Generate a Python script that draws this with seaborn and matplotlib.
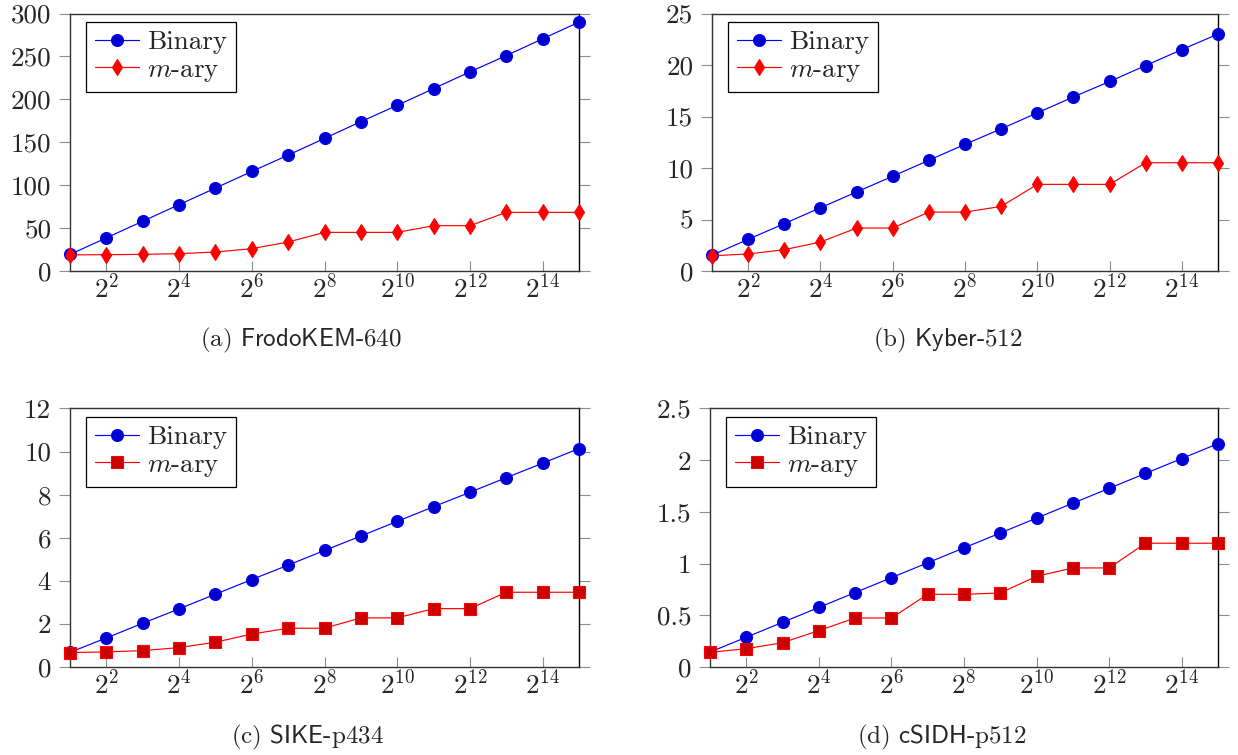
import numpy as np
import seaborn as sns
import matplotlib
matplotlib.use("Agg")
import matplotlib.pyplot as plt
from matplotlib.ticker import FixedLocator, NullLocator

# x axis: 2^1 ... 2^15
exponents = list(range(1, 16))
xtick_exps = [2, 4, 6, 8, 10, 12, 14]

# (a) FrodoKEM-640
frodo_binary = [19.3, 38.6, 58.0, 77.3, 96.6, 116.0, 135.0, 154.5, 174.0, 193.0, 212.5, 232.0, 251.0, 270.5, 290.0]
frodo_mary = [18.8, 19.0, 19.4, 20.2, 22.1, 26.0, 33.8, 45.0, 45.0, 45.0, 52.8, 52.8, 68.3, 68.3, 68.3]

# (b) Kyber-512
kyber_binary = [1.54, 3.07, 4.6, 6.14, 7.67, 9.2, 10.75, 12.3, 13.8, 15.35, 16.9, 18.4, 19.95, 21.5, 23.0]
kyber_mary = [1.48, 1.65, 2.07, 2.81, 4.17, 4.17, 5.72, 5.72, 6.27, 8.41, 8.41, 8.41, 10.51, 10.51, 10.51]

# (c) SIKE-p434
sike_binary = [0.68, 1.35, 2.03, 2.7, 3.38, 4.06, 4.73, 5.41, 6.08, 6.76, 7.44, 8.11, 8.79, 9.46, 10.14]
sike_mary = [0.67, 0.70, 0.76, 0.90, 1.15, 1.53, 1.80, 1.80, 2.28, 2.28, 2.71, 2.71, 3.47, 3.47, 3.47]

# (d) cSIDH-p512
csidh_binary = [0.144, 0.288, 0.432, 0.576, 0.72, 0.864, 1.008, 1.152, 1.296, 1.44, 1.584, 1.728, 1.872, 2.016, 2.16]
csidh_mary = [0.142, 0.177, 0.235, 0.352, 0.474, 0.474, 0.703, 0.703, 0.716, 0.877, 0.958, 0.958, 1.197, 1.197, 1.197]

captions = [r"(a) $\mathsf{FrodoKEM}$-640", r"(b) $\mathsf{Kyber}$-512",
            r"(c) $\mathsf{SIKE}$-p434", r"(d) $\mathsf{cSIDH}$-p512"]

sns.set_style("ticks")
plt.rcParams["font.family"] = ["cmr10", "DejaVu Serif"]
plt.rcParams["mathtext.fontset"] = "cm"
plt.rcParams["axes.unicode_minus"] = False
plt.rcParams["axes.formatter.use_mathtext"] = True

W, H = 1238, 755
fig = plt.figure(figsize=(W / 100, H / 100), dpi=100)

# axes boxes in pixels: left, top, right, bottom
boxes = [(70, 13.5, 579, 271), (712, 13.5, 1218, 271),
         (70, 408.5, 579, 667), (710, 408.5, 1218, 667)]
panels = [
    (frodo_binary, frodo_mary, "d", 8.5, "red", 300, 50),
    (kyber_binary, kyber_mary, "d", 8.5, "red", 25, 5),
    (sike_binary, sike_mary, "s", 8.2, "#cc0000", 12, 2),
    (csidh_binary, csidh_mary, "s", 8.2, "#cc0000", 2.5, 0.5),
]
cap_pos = [(301, 340.7), (948, 340.7), (307, 737), (942, 737)]

x = [2 ** e for e in exponents]

for box, (yb, ym, mk, ms, mfc, ytop, ystep), cap, cp in zip(boxes, panels, captions, cap_pos):
    l, t, r, b = box
    ax = fig.add_axes([l / W, 1 - b / H, (r - l) / W, (b - t) / H])
    sns.lineplot(x=x, y=yb, ax=ax, color="blue", linewidth=0.85, marker="o",
                 markersize=8.6, markerfacecolor="#0000cc", markeredgecolor="blue",
                 markeredgewidth=0.8, label="Binary", clip_on=False, zorder=3)
    sns.lineplot(x=x, y=ym, ax=ax, color="red", linewidth=0.85, marker=mk,
                 markersize=ms, markerfacecolor=mfc, markeredgecolor="red",
                 markeredgewidth=0.8, label="$m$-ary", clip_on=False, zorder=4)
    ax.set_xscale("log", base=2)
    ax.set_xlim(2, 2 ** 15)
    ax.xaxis.set_major_locator(FixedLocator([2 ** e for e in xtick_exps]))
    ax.xaxis.set_minor_locator(NullLocator())
    ax.set_xticklabels([r"$2^{%d}$" % e for e in xtick_exps])
    yt = np.arange(0, ytop + ystep / 2, ystep)
    ax.set_ylim(0, ytop)
    ax.set_yticks(yt)
    ax.set_yticklabels(["%g" % v for v in yt])
    ax.tick_params(axis="y", direction="out", length=8, width=0.8, color="0.55",
                   left=True, right=True, labelsize=19.5, pad=5.5)
    ax.tick_params(axis="x", direction="in", length=7.2, width=0.8, color="0.55",
                   bottom=True, top=False, labelsize=19.5, pad=1.5)
    for s in ax.spines.values():
        s.set_color("0.2")
        s.set_linewidth(1.0)
    ax.spines["right"].set_color("black")
    ax.set_xlabel("")
    ax.set_ylabel("")
    # legend box sits 16 px right of and 8 px below the top-left corner
    leg = ax.legend(loc="upper left", bbox_to_anchor=(16 / (r - l), 1 - 8.2 / (b - t)),
                    borderaxespad=0, fontsize=19.5, fancybox=False, framealpha=1,
                    edgecolor="black", handlelength=1.65, handletextpad=0.3,
                    borderpad=0.32, labelspacing=0.12)
    leg.get_frame().set_linewidth(0.9)
    fig.text(cp[0] / W, 1 - cp[1] / H, cap, ha="center", va="center", fontsize=18)

plt.savefig("out.png", dpi=100)
